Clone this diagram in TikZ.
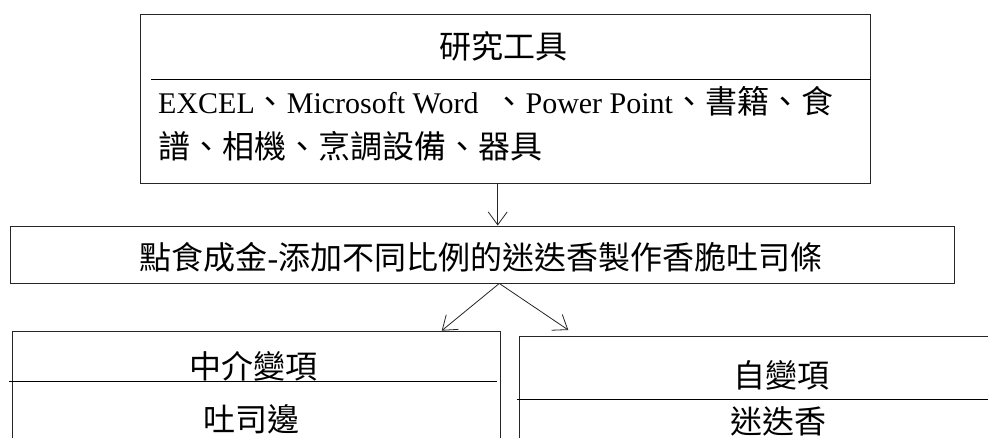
\documentclass[tikz,border=0pt]{standalone}
\usepackage{fontspec}
\setmainfont{Liberation Serif}
\newfontfamily\cjk{Noto Sans CJK TC}
\usetikzlibrary{arrows.meta,calc}
\newcommand\zht[1]{{\cjk\fontsize{32}{32}\selectfont #1}}
\begin{document}
\begin{tikzpicture}[x=1pt,y=-1pt,
  box/.style={draw=black!85, line width=0.9pt, inner sep=0pt},
  arr/.style={draw=black!85, line width=0.8pt, -{Straight Barb[length=13pt,width=19pt]}},
  sep/.style={draw=black, line width=0.9pt},
  zh/.style={font=\cjk\fontsize{32}{32}\selectfont, inner sep=0pt},
  mix/.style={font=\fontsize{30}{32}\selectfont, inner sep=0pt, anchor=west}]
\useasboundingbox (0,0) rectangle (988,437);
\clip (0,0) rectangle (988,437);
\fill[white] (0,0) rectangle (988,437);
% boxes
\node[box, minimum width=730pt, minimum height=169.3pt] (top) at (505.7,98.65) {};
\node[box, minimum width=944pt, minimum height=57pt] (mid) at (482,254.5) {};
\node[box, minimum width=488pt, minimum height=170pt] (left) at (256,416) {};
\node[box, minimum width=524pt, minimum height=174pt] (right) at (781,423) {};
% separators
\coordinate (s1a) at (151,79);
\draw[sep] (s1a) -- (s1a -| top.east);
\coordinate (s2a) at (9,381);
\coordinate (s2b) at (497,381);
\draw[sep] (s2a) -- (s2b);
\coordinate (s3a) at (517,399);
\draw[sep] (s3a) -- (s3a -| right.east);
% texts
\node[zh] (t1) at (503,46) {研究工具};
\node[mix] (t2) at (158,101) {EXCEL\zht{、}Microsoft Word\ \ \zht{、}Power Point\zht{、書籍、食}};
\node[mix] (t3) at (158,146) {\zht{譜、相機、烹調設備、器具}};
\node[zh] (m) at (481,257) {點食成金{\rmfamily -}添加不同比例的迷迭香製作香脆吐司條};
\node[zh] (l1) at (253,366) {中介變項};
\node[zh] (l2) at (251,419) {吐司邊};
\node[zh] (r1) at (781,375) {自變項};
\node[zh] (r2) at (778,421) {迷迭香};
% arrows
\coordinate (ax) at (497.7,0);
\coordinate (fx) at (499.3,0);
\coordinate (lt) at (441.7,330.7);
\coordinate (rt) at (568.3,330);
\draw[arr] (top.south -| ax) -- (mid.north -| ax);
\draw[arr] (mid.south -| fx) -- (lt);
\draw[arr] (mid.south -| fx) -- (rt);
\end{tikzpicture}
\end{document}
